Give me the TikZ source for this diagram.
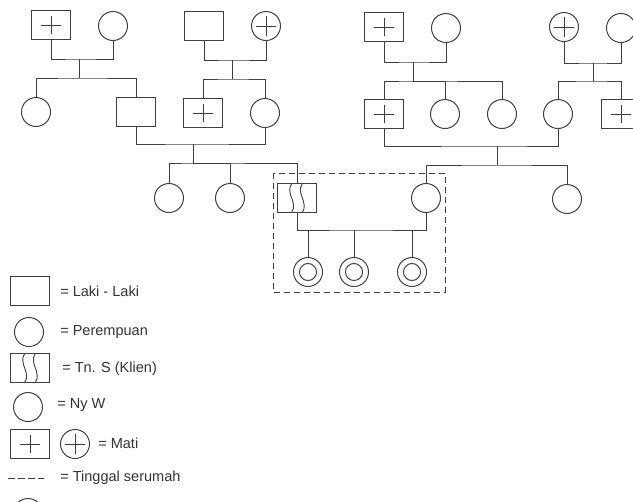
\documentclass[tikz,border=0pt]{standalone}
\usepackage{fontspec}
\setmainfont{Liberation Sans}
\usetikzlibrary{calc}
\begin{document}
\begin{tikzpicture}[x=0.75pt,y=-0.75pt,
  ink/.style={draw=black!75, line width=0.75pt},
  male/.style={ink, rectangle, minimum width=29.25pt, minimum height=21.75pt, inner sep=0pt},
  female/.style={ink, circle, minimum size=21.75pt, inner sep=0pt},
  deadmale/.style={male, path picture={
    \draw[black!75, line width=0.7pt]
      ([xshift=-7.5pt]path picture bounding box.center) -- ([xshift=7.5pt]path picture bounding box.center)
      ([yshift=-6.5pt]path picture bounding box.center) -- ([yshift=6.5pt]path picture bounding box.center);}},
  deadfemale/.style={female, path picture={
    \draw[black!75, line width=0.7pt]
      ([xshift=-7.5pt]path picture bounding box.center) -- ([xshift=7.5pt]path picture bounding box.center)
      ([yshift=-7.5pt]path picture bounding box.center) -- ([yshift=7.5pt]path picture bounding box.center);}},
  client/.style={male, path picture={
    \foreach \dx in {-4pt,4pt}{
      \draw[black!75, line width=0.7pt]
        ([xshift=\dx]path picture bounding box.north) .. controls +(-5pt,-8pt) and +(5pt,8pt) ..
        ([xshift=\dx]path picture bounding box.south);}}},
  grandchild/.style={female, path picture={
    \draw[black!75, line width=0.75pt] (path picture bounding box.center) circle (6.4pt);}},
  link/.style={draw=black!75, line width=0.7pt},
  household/.style={draw=black!75, line width=0.7pt, dash pattern=on 4.5pt off 3pt},
  legendtext/.style={anchor=west, inner sep=0pt, text=black!80, font=\fontsize{10.9}{13}\selectfont},
]
\clip (0,0) rectangle (633,501);

% generation I
\node[deadmale]   (A1) at (51,25) {};
\node[female]     (A2) at (113,26) {};
\node[male]       (B1) at (204,26) {};
\node[deadfemale] (B2) at (266,26) {};
\node[deadmale]   (C1) at (384,27) {};
\node[female]     (C2) at (446,28) {};
\node[deadfemale] (D1) at (564,27) {};
\node[female]     (D2) at (621,28) {};

% generation II
\node[female]   (E1) at (36,112) {};
\node[male]     (E2) at (136,112) {};
\node[deadmale] (F1) at (203,113) {};
\node[female]   (F2) at (265,113) {};
\node[deadmale] (G1) at (384,114) {};
\node[female]   (G2) at (445,114) {};
\node[female]   (G3) at (502,114) {};
\node[female]   (G4) at (558,114) {};
\node[deadmale] (H1) at (621,114) {};

% generation III
\node[female] (I1) at (169,198) {};
\node[female] (I2) at (230,198) {};
\node[client] (K)  at (297,198) {};
\node[female] (W)  at (426,198) {};
\node[female] (J)  at (567,199) {};

% generation IV
\node[grandchild] (L1) at (308,272) {};
\node[grandchild] (L2) at (354,272) {};
\node[grandchild] (L3) at (412,272) {};

% marriage and sibling junctions
\coordinate (a)  at (79,59);   \coordinate (ab) at (79,78);
\coordinate (b)  at (232,60);  \coordinate (bb) at (232,79);
\coordinate (c)  at (413,62);  \coordinate (cb) at (413,81);
\coordinate (d)  at (593,63);  \coordinate (db) at (593,81);
\coordinate (ef) at (193,144); \coordinate (eb) at (193,163);
\coordinate (g)  at (497,146); \coordinate (gb) at (497,165);
\coordinate (kw) at (360,230);

% couples and descent lines
\draw[link] (A1.south) |- (a) -| (A2.south);
\draw[link] (a) -- (ab);
\draw[link] (E1.north) |- (ab) -| (E2.north);

\draw[link] (B1.south) |- (b) -| (B2.south);
\draw[link] (b) -- (bb);
\draw[link] (F1.north) |- (bb) -| (F2.north);

\draw[link] (C1.south) |- (c) -| (C2.south);
\draw[link] (c) -- (cb);
\draw[link] (G1.north) |- (cb) -| (G3.north);
\draw[link] (cb) -| (G2.north);

\draw[link] (D1.south) |- (d) -| (D2.south);
\draw[link] (d) -- (db);
\draw[link] (G4.north) |- (db) -| (H1.north);

\draw[link] (E2.south) |- (ef) -| (F2.south);
\draw[link] (ef) -- (eb);
\draw[link] (I1.north) |- (eb) -| (K.north);
\draw[link] (eb) -| (I2.north);

\draw[link] (G1.south) |- (g) -| (G4.south);
\draw[link] (g) -- (gb);
\draw[link] (W.north) |- (gb) -| (J.north);

\draw[link] (K.south) |- (kw) -| (W.south);
\draw[link] (L1.north) -- (L1.north |- kw);
\draw[link] (L2.north) -- (L2.north |- kw);
\draw[link] (L3.north) -- (L3.north |- kw);

% shared household
\draw[household] (273,173) rectangle (445,292);

% legend
\node[male]       (Km) at (30,291) {};
\node[legendtext] (Tm) at (60,291) {= Laki - Laki};
\node[female]     (Kf) at (29,332) {};
\node[legendtext] (Tf) at (60,332) {= Perempuan};
\node[client]     (Kc) at (30,368) {};
\node[legendtext] (Tc) at (62,369) {= Tn. S (Klien)};
\node[female]     (Kw) at (28,407) {};
\node[legendtext] (Tw) at (57,405) {= Ny W};
\node[deadmale]   (Kd) at (30,444) {};
\node[deadfemale] (Ke) at (75,444) {};
\node[legendtext] (Td) at (98,443) {= Mati};
\coordinate (h1) at (8,478);
\coordinate (h2) at (44,478);
\draw[link, dash pattern=on 5pt off 2.6pt] (h1) -- (h2);
\node[legendtext] (Th) at (60,478) {= Tinggal serumah};
\node[female]     (Kg) at (28,513) {};
\end{tikzpicture}
\end{document}
